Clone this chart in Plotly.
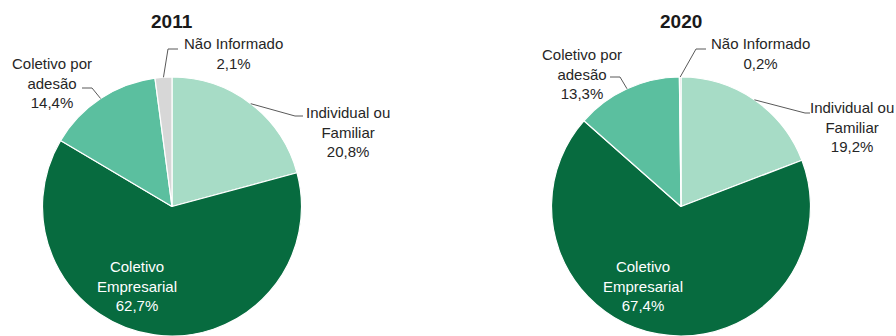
import math
import plotly.graph_objects as go

# Distribution of plans by contract type, 2011 vs 2020 (percent)
categories = ["Individual ou Familiar", "Coletivo Empresarial", "Coletivo por adesão", "Não Informado"]
category_text = ["Individual ou<br>Familiar", "Coletivo<br>Empresarial", "Coletivo por<br>adesão", "Não Informado"]
years = ["2011", "2020"]
share_2011 = [20.8, 62.7, 14.4, 2.1]
share_2020 = [19.2, 67.4, 13.3, 0.2]
colors = ["#a7dcc6", "#076b3f", "#5bbf9f", "#d7d7d7"]

W, H = 896, 336
R = 129.5                       # pie radius in px
centers = [(172, 206.5), (681, 206.5)]

def px(x, y):
    return x / W, 1 - y / H

def fmt(v):
    return f"{v:.1f}".replace(".", ",") + "%"

def arc_point(center, values, idx):
    """Point on the pie rim at the middle of slice idx (clockwise from 12 o'clock)."""
    total = sum(values)
    start = sum(values[:idx]) / total
    mid = start + values[idx] / total / 2
    ang = 2 * math.pi * mid
    return center[0] + R * math.sin(ang), center[1] - R * math.cos(ang)

fig = go.Figure()
for (cx, cy), vals in zip(centers, [share_2011, share_2020]):
    fig.add_trace(go.Pie(
        labels=categories, values=vals, sort=False, direction="clockwise", rotation=0,
        marker=dict(colors=colors, line=dict(color="white", width=1.2)),
        textinfo="none", hoverinfo="label+percent",
        domain=dict(x=[(cx - R) / W, (cx + R) / W], y=[0, 2 * R / H]),
    ))

# label layout per chart: text centre, elbow and end of the leader line (px)
label_layout = [
    {
        0: dict(text=(348, 132), elbow=(295, 116), end=(303, 116)),
        2: dict(text=(52, 83), elbow=(92, 88), end=(82, 88)),
        3: dict(text=(233, 53.5), elbow=(168, 49), end=(178, 49)),
        1: dict(text=(137, 286)),
    },
    {
        0: dict(text=(852, 127), elbow=(805, 113), end=(810, 113)),
        2: dict(text=(582, 74), elbow=(620, 77), end=(610, 77)),
        3: dict(text=(760, 53.5), elbow=(696, 49), end=(706, 49)),
        1: dict(text=(643, 286)),
    },
]

font_family = "Liberation Sans, Arial, sans-serif"
annotations = []
shapes = []
for k, (center, vals) in enumerate(zip(centers, [share_2011, share_2020])):
    tx, ty = px(center[0], 22)
    annotations.append(dict(text=f"<b>{years[k]}</b>", x=tx, y=ty, xref="paper", yref="paper",
                            showarrow=False, xanchor="center", yanchor="middle",
                            font=dict(size=19, color="#1a1a1a", family=font_family)))
    for idx, spec in label_layout[k].items():
        inside = idx == 1
        x, y = px(*spec["text"])
        annotations.append(dict(
            text=f"{category_text[idx]}<br>{fmt(vals[idx])}",
            x=x, y=y, xref="paper", yref="paper", showarrow=False,
            xanchor="center", yanchor="middle", align="center",
            font=dict(size=15, color="white" if inside else "#262626", family=font_family),
        ))
        if not inside:
            p0 = arc_point(center, vals, idx)
            pts = [px(*p0), px(*spec["elbow"]), px(*spec["end"])]
            path = "M " + " L ".join(f"{a},{b}" for a, b in pts)
            shapes.append(dict(type="path", path=path, xref="paper", yref="paper",
                               line=dict(color="#595959", width=1)))

fig.update_layout(
    width=W, height=H, margin=dict(l=0, r=0, t=0, b=0),
    paper_bgcolor="white", plot_bgcolor="white", showlegend=False,
    annotations=annotations, shapes=shapes,
    font=dict(family=font_family),
)
fig.write_html("out.html")
